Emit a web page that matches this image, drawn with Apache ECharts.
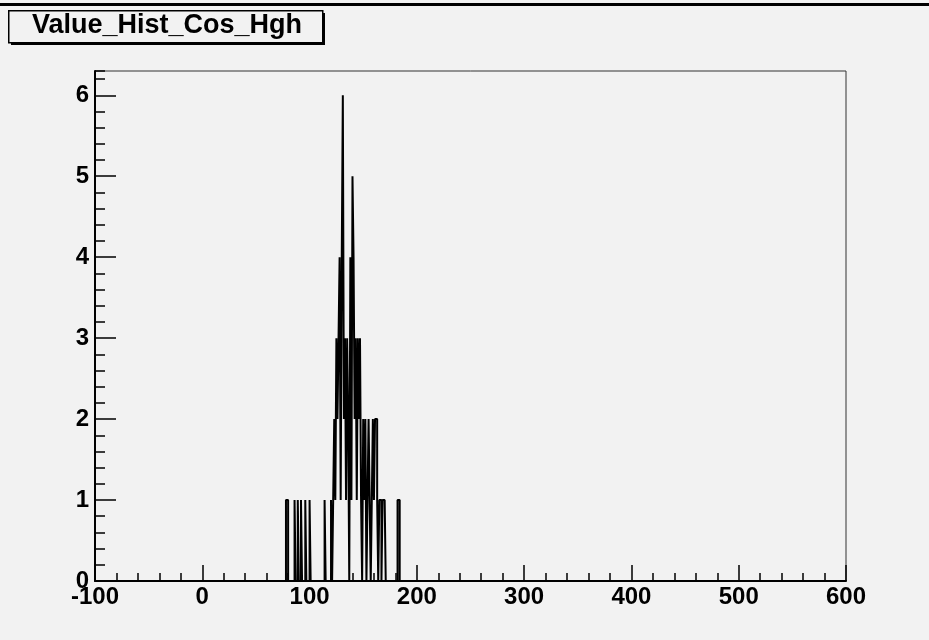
<!DOCTYPE html>
<html>
<head>
<meta charset="utf-8">
<script src="https://cdn.jsdelivr.net/npm/echarts@6/dist/echarts.min.js"></script>
<style>
  html, body { margin: 0; padding: 0; background: #f2f2f2; }
  #chart { width: 929px; height: 640px; }
</style>
</head>
<body>
<div id="chart"></div>
<script>
// histogram bins (lower edge, bin width 1) that hold entries
const binLow = [78, 79, 86, 89, 92, 96, 100, 114, 120,
  122, 123, 124, 125, 126, 127, 128, 129, 130, 131, 132, 133, 134, 135, 136,
  138, 139, 140, 141, 142, 143, 144, 145, 146, 147, 148,
  150, 151, 152, 154, 155, 156, 158, 159, 160, 161, 162, 163,
  165, 166, 168, 169, 170, 182, 183];
const binCount = [1, 1, 1, 1, 1, 1, 1, 1, 1,
  1, 2, 1, 3, 2, 3, 4, 1, 4, 6, 2, 3, 1, 3, 2,
  4, 1, 5, 4, 2, 3, 1, 3, 2, 3, 1,
  2, 1, 2, 1, 2, 1, 1, 2, 1, 2, 2, 1,
  1, 1, 1, 1, 1, 1, 1];
const binWidth = 1;

const xMin = -100, xMax = 600;
const yMin = 0, yMax = 6.3;
const yTicks = [0, 1, 2, 3, 4, 5, 6];
const titleText = 'Value_Hist_Cos_Hgh';

// outline of the histogram as a step contour (ROOT style)
const contour = [[xMin, 0]];
binLow.forEach((lo, i) => {
  contour.push([lo, binCount[i]]);
  if (binLow[i + 1] !== lo + binWidth) contour.push([lo + binWidth, 0]);
});
contour.push([xMax, 0]);

const chart = echarts.init(document.getElementById('chart'));
const labelFont = { color: '#000', fontFamily: 'Liberation Sans', fontWeight: 'bold', fontSize: 24 };

chart.setOption({
  backgroundColor: '#f2f2f2',
  animation: false,
  grid: { left: 95, right: 83, top: 71, bottom: 59, show: true, borderColor: '#333', borderWidth: 1 },
  xAxis: {
    type: 'value', min: xMin, max: xMax, interval: 100,
    axisLine: { onZero: false, lineStyle: { color: '#000', width: 2 } },
    axisTick: { inside: true, length: 16, lineStyle: { color: '#000', width: 1.5 } },
    minorTick: { show: true, splitNumber: 5, length: 8, lineStyle: { color: '#000', width: 1.5 } },
    axisLabel: { ...labelFont, margin: 4 },
    splitLine: { show: false }
  },
  yAxis: [
    {
      type: 'value', min: yMin, max: yMax, interval: 1,
      axisLine: { show: true, onZero: false, lineStyle: { color: '#000', width: 2 } },
      axisTick: { inside: true, length: 21, customValues: yTicks, lineStyle: { color: '#000', width: 1.5 } },
      axisLabel: { ...labelFont, margin: 6, customValues: yTicks },
      splitLine: { show: false }
    },
    {
      type: 'value', min: yMin, max: yMax, interval: 0.2, position: 'left',
      axisLine: { show: false, onZero: false },
      axisTick: { inside: true, length: 10, lineStyle: { color: '#000', width: 1.5 } },
      axisLabel: { show: false },
      splitLine: { show: false }
    }
  ],
  series: [{
    type: 'line', step: 'end', data: contour, symbol: 'none',
    lineStyle: { color: '#000', width: 2 }, z: 3
  }],
  graphic: [
    { type: 'rect', left: 0, top: 3, shape: { width: 929, height: 3 }, style: { fill: '#000' } },
    { type: 'rect', left: 11, top: 13, shape: { width: 314, height: 32 }, style: { fill: '#000' } },
    { type: 'rect', left: 8, top: 10, shape: { width: 314, height: 32 }, style: { fill: '#f2f2f2', stroke: '#000', lineWidth: 1.5 } },
    {
      type: 'text', x: 167, y: 26,
      style: { text: titleText, fill: '#000', font: 'bold 27px "Liberation Sans"', align: 'center', verticalAlign: 'middle' }
    }
  ]
});
</script>
</body>
</html>
